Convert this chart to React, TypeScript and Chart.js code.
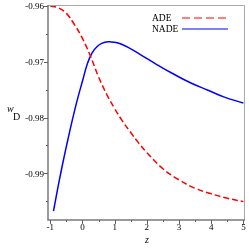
import { useEffect, useRef } from "react";
import { Chart, registerables } from "chart.js";

Chart.register(...registerables);

const zADE = [-1, -0.75, -0.5, -0.25, 0, 0.25, 0.5, 0.75, 1.0, 1.25, 1.5, 1.75, 2.0, 2.5, 3.0, 3.5, 4.0, 4.5, 5.0];
const wADE = [-0.96, -0.9603, -0.9613, -0.9633, -0.9658, -0.969, -0.9727, -0.9758, -0.9784, -0.9807, -0.9827, -0.9846, -0.9863, -0.9892, -0.9912, -0.9927, -0.9937, -0.9945, -0.9951];

const zNADE = [-0.9, -0.75, -0.6, -0.45, -0.3, -0.15, 0.0, 0.15, 0.3, 0.45, 0.6, 0.8, 1.0, 1.2, 1.42, 1.8, 2.31, 2.8, 3.37, 3.9, 4.39, 5.0];
const wNADE = [-0.9968, -0.9922, -0.9879, -0.9839, -0.9801, -0.9766, -0.9735, -0.9704, -0.9684, -0.9673, -0.9667, -0.9664, -0.9665, -0.9668, -0.9674, -0.9687, -0.9705, -0.9721, -0.9738, -0.9751, -0.9763, -0.9774];

const xMajorTicks = [-1, 0, 1, 2, 3, 4, 5];
const xMinorTicks = [-0.5, 0.5, 1.5, 2.5, 3.5, 4.5];
const yMajorTicks = [-0.96, -0.97, -0.98, -0.99];
const yMinorTicks = [-0.965, -0.975, -0.985, -0.995];
const seriesLabels = ["ADE", "NADE"];
const xTitle = "z";
const yTitle = "w";
const yTitleSub = "D";

const SERIF = "'Liberation Serif', 'Times New Roman', serif";

export default function App() {
  const ref = useRef<HTMLCanvasElement>(null);

  useEffect(() => {
    document.body.style.margin = "0";
    const canvas = ref.current;
    if (!canvas) return;

    const framePlugin = {
      id: "frame",
      afterDraw(chart: any) {
        const ctx = chart.ctx as CanvasRenderingContext2D;
        const { left, right, top, bottom } = chart.chartArea;
        const xs = chart.scales.x;
        const ys = chart.scales.y;
        ctx.save();
        // top/right border
        ctx.strokeStyle = "#a8a8a8";
        ctx.lineWidth = 1;
        ctx.beginPath();
        ctx.moveTo(left, top + 0.5);
        ctx.lineTo(right - 0.5, top + 0.5);
        ctx.lineTo(right - 0.5, bottom);
        ctx.stroke();
        // left/bottom axes
        ctx.strokeStyle = "#7a7a7a";
        ctx.lineWidth = 1.5;
        ctx.beginPath();
        ctx.moveTo(left, top);
        ctx.lineTo(left, bottom);
        ctx.lineTo(right, bottom);
        ctx.stroke();
        // ticks
        ctx.lineWidth = 1;
        ctx.strokeStyle = "#606060";
        ctx.beginPath();
        yMajorTicks.forEach((v) => {
          const y = Math.round(ys.getPixelForValue(v)) + 0.5;
          ctx.moveTo(left - 4, y);
          ctx.lineTo(left, y);
        });
        yMinorTicks.forEach((v) => {
          const y = Math.round(ys.getPixelForValue(v)) + 0.5;
          ctx.moveTo(left - 2, y);
          ctx.lineTo(left, y);
        });
        xMajorTicks.forEach((v) => {
          const x = Math.round(xs.getPixelForValue(v)) + 0.5;
          ctx.moveTo(x, bottom);
          ctx.lineTo(x, bottom + 4);
        });
        xMinorTicks.forEach((v) => {
          const x = Math.round(xs.getPixelForValue(v)) + 0.5;
          ctx.moveTo(x, bottom);
          ctx.lineTo(x, bottom + 2);
        });
        ctx.stroke();

        // tick labels
        ctx.fillStyle = "#000";
        ctx.font = `9px ${SERIF}`;
        ctx.textAlign = "right";
        ctx.textBaseline = "middle";
        yMajorTicks.forEach((v) => {
          ctx.fillText(v.toFixed(2), left - 4, ys.getPixelForValue(v) + 1);
        });
        ctx.textAlign = "center";
        ctx.textBaseline = "top";
        xMajorTicks.forEach((v) => {
          ctx.fillText(String(v), xs.getPixelForValue(v), bottom + 3);
        });

        // axis titles
        ctx.font = `italic 10px ${SERIF}`;
        ctx.textAlign = "left";
        ctx.textBaseline = "middle";
        ctx.fillText(yTitle, 7, 109);
        ctx.font = `10px ${SERIF}`;
        ctx.fillText(yTitleSub, 13, 117);
        ctx.font = `italic 10px ${SERIF}`;
        ctx.textAlign = "center";
        ctx.fillText(xTitle, xs.getPixelForValue(2), 240);

        // legend
        ctx.font = `9.5px ${SERIF}`;
        ctx.textAlign = "left";
        ctx.textBaseline = "middle";
        const legendYs = [18, 29];
        chart.data.datasets.forEach((ds: any, i: number) => {
          const y = legendYs[i];
          ctx.fillStyle = "#000";
          ctx.fillText(seriesLabels[i], 152, y);
          ctx.strokeStyle = ds.borderColor;
          ctx.lineWidth = 1;
          ctx.setLineDash(ds.borderDash && ds.borderDash.length ? [8, 4] : []);
          ctx.beginPath();
          ctx.moveTo(182, y);
          ctx.lineTo(228, y);
          ctx.stroke();
        });
        ctx.setLineDash([]);
        ctx.restore();
      },
    };

    const chart = new Chart(canvas, {
      type: "line",
      data: {
        datasets: [
          {
            label: seriesLabels[0],
            data: zADE.map((x, i) => ({ x, y: wADE[i] })),
            borderColor: "#ff0000",
            borderWidth: 1.5,
            borderDash: [6, 3],
            pointRadius: 0,
            fill: false,
            tension: 0.4,
          },
          {
            label: seriesLabels[1],
            data: zNADE.map((x, i) => ({ x, y: wNADE[i] })),
            borderColor: "#0000ff",
            borderWidth: 1.5,
            borderDash: [],
            pointRadius: 0,
            fill: false,
            tension: 0.4,
          },
        ],
      },
      options: {
        animation: false,
        responsive: false,
        maintainAspectRatio: false,
        layout: { padding: { top: 5, right: 4, left: 0, bottom: 0 } },
        plugins: { legend: { display: false }, tooltip: { enabled: false } },
        scales: {
          x: {
            type: "linear",
            min: -1.07,
            max: 5.05,
            grid: { display: false },
            border: { display: false },
            ticks: { display: false },
            afterFit(s: any) {
              s.height = 29;
            },
          },
          y: {
            type: "linear",
            min: -0.9984,
            max: -0.9598,
            grid: { display: false },
            border: { display: false },
            ticks: { display: false },
            afterFit(s: any) {
              s.width = 48;
            },
          },
        },
      } as any,
      plugins: [framePlugin],
    });

    return () => chart.destroy();
  }, []);

  return <canvas ref={ref} width={249} height={249} style={{ display: "block" }} />;
}
